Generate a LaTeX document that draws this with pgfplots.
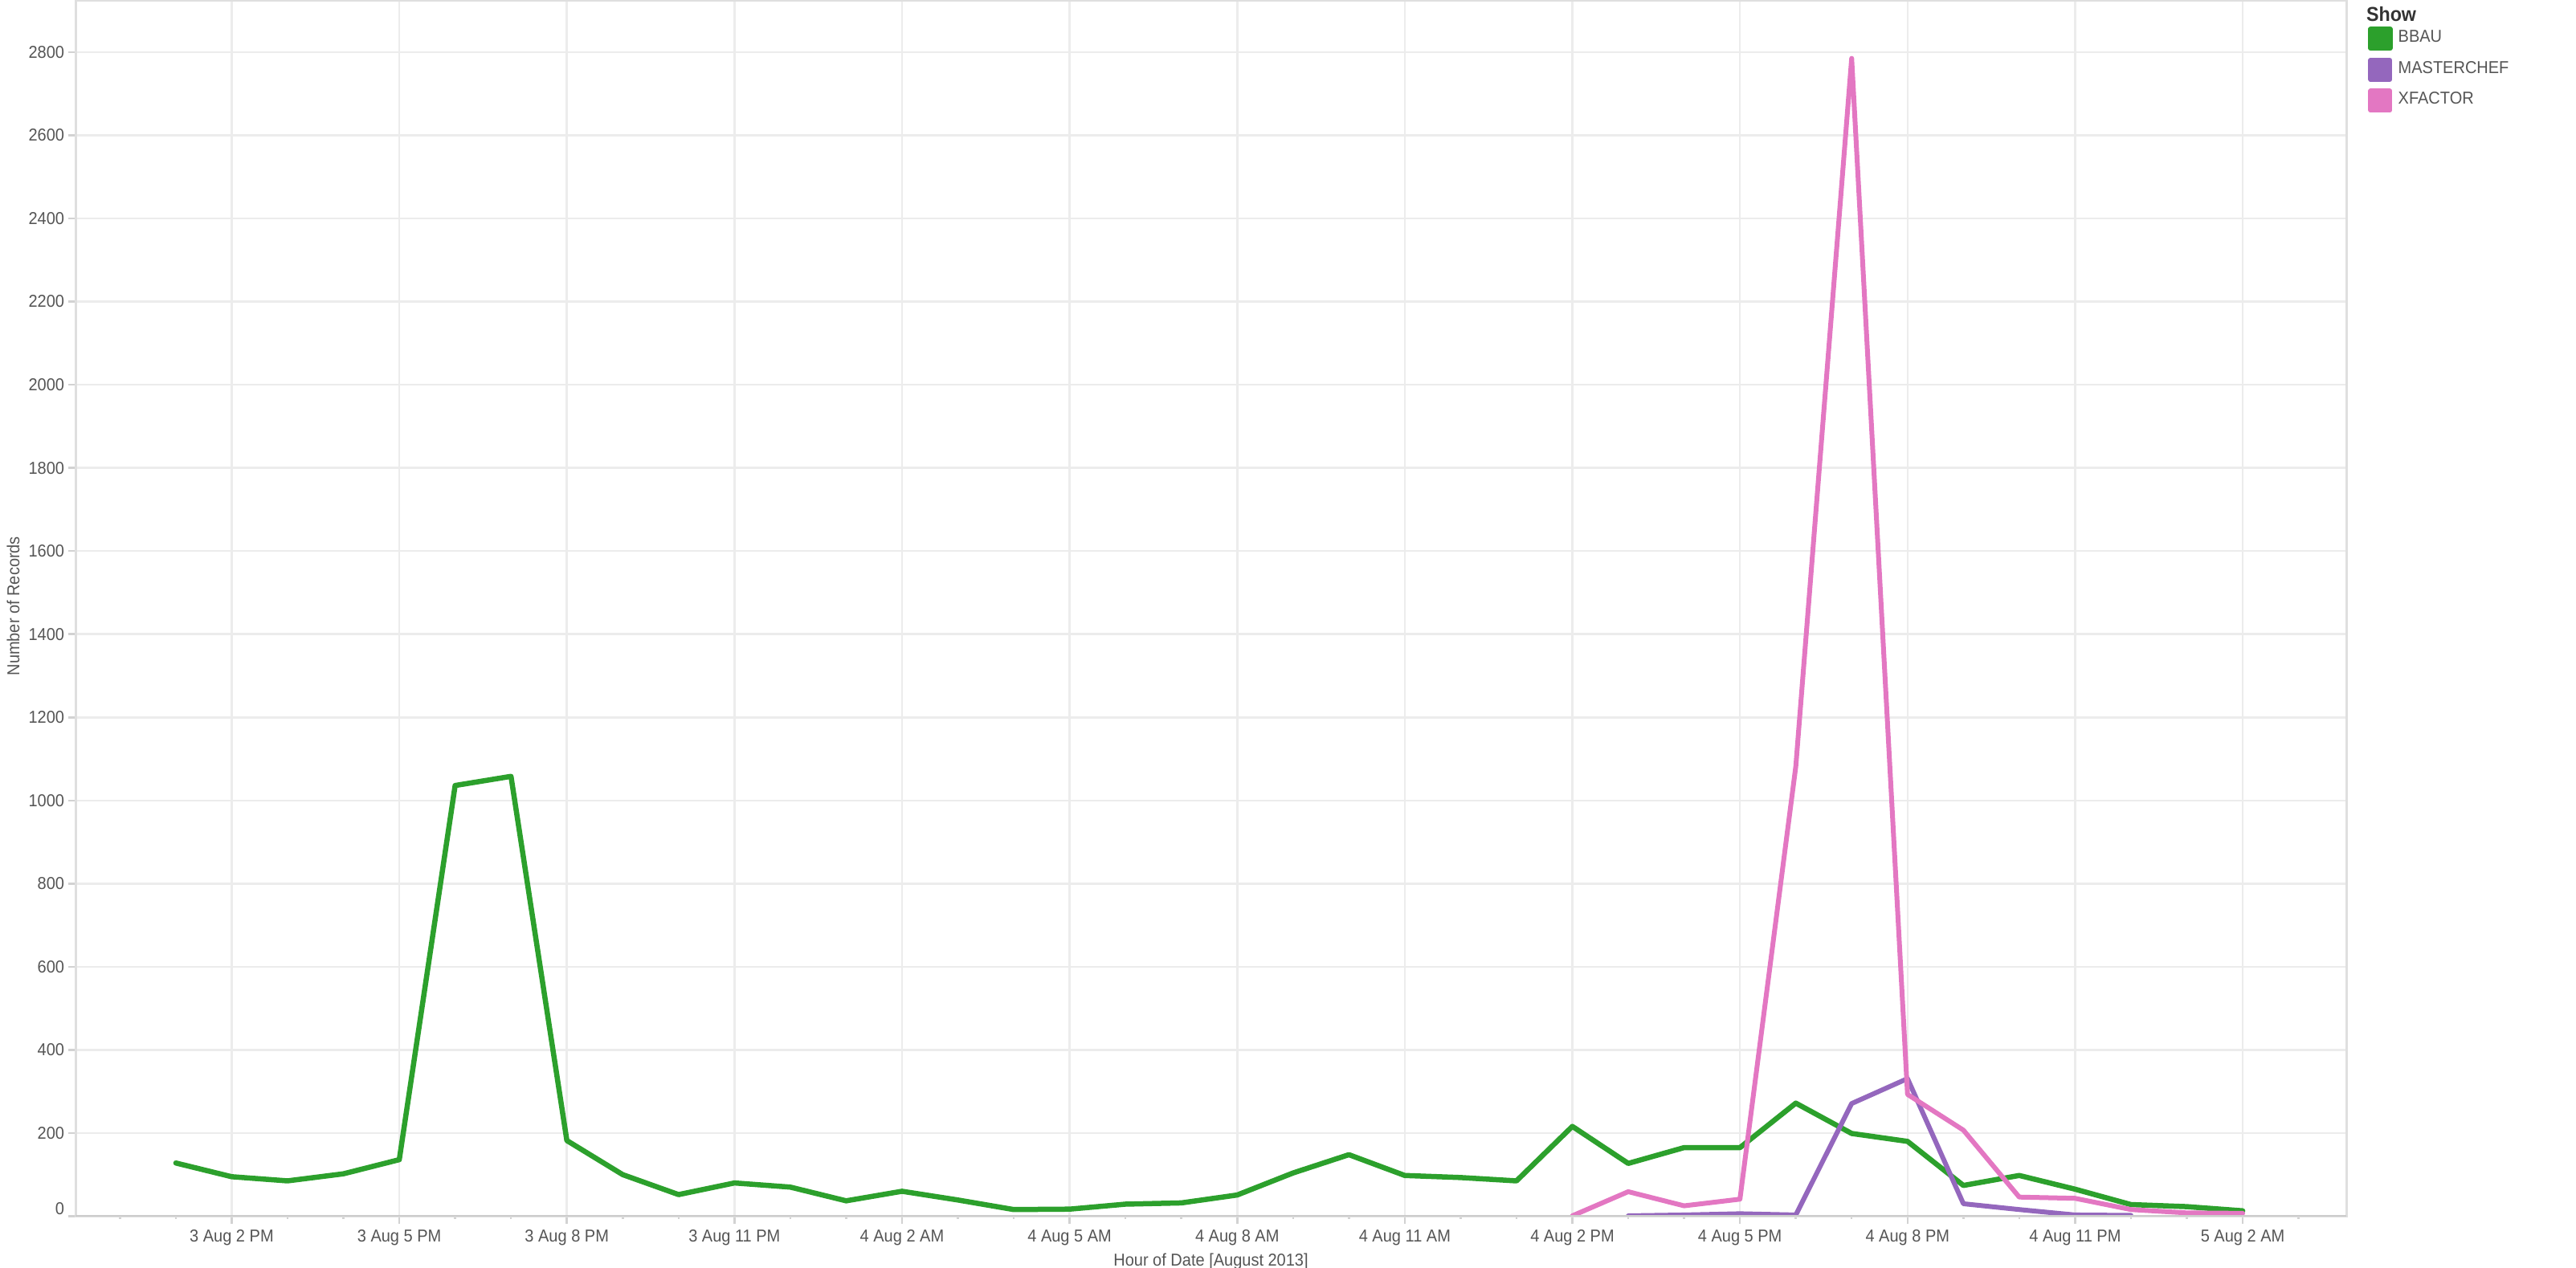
\documentclass[border=0pt]{standalone}
\usepackage{fontspec}
\setmainfont{Liberation Sans}
\newfontfamily\tabfont[FakeStretch=0.93]{Liberation Sans}
\usepackage{pgfplots}
\pgfplotsset{compat=1.18}
\definecolor{bbau}{HTML}{2CA02C}
\definecolor{mchef}{HTML}{9467BD}
\definecolor{xfac}{HTML}{E377C2}
\definecolor{txt}{HTML}{555555}
\definecolor{ttl}{HTML}{333333}
\begin{document}
\begin{tikzpicture}
\path[use as bounding box] (0,0) rectangle (641.4pt,315.6pt);
\begin{axis}[
  at={(18.8pt,12.7pt)}, anchor=south west,
  scale only axis, width=565.4pt, height=302.7pt,
  xmin=11.204, xmax=51.855, ymin=0, ymax=2923.5,
  xtick={14,17,...,50},
  xticklabels={3 Aug 2 PM,3 Aug 5 PM,3 Aug 8 PM,3 Aug 11 PM,4 Aug 2 AM,4 Aug 5 AM,4 Aug 8 AM,4 Aug 11 AM,4 Aug 2 PM,4 Aug 5 PM,4 Aug 8 PM,4 Aug 11 PM,5 Aug 2 AM},
  minor xtick={12,13,...,51},
  ytick={0,200,...,2800},
  yticklabels={\raisebox{4pt}{0},200,400,600,800,1000,1200,1400,1600,1800,2000,2200,2400,2600,2800},
  xtick pos=bottom, ytick pos=left,
  tick align=outside,
  major tick length=1.8pt, minor tick length=0.7pt,
  tick style={color=gray!35, line width=0.5pt},
  grid=major, major grid style={color=gray!15, line width=0.5pt},
  axis line style={color=gray!25, line width=0.6pt},
  ticklabel style={font=\tabfont\fontsize{4.3}{5}\selectfont, text=txt, inner sep=0pt},
  xticklabel style={anchor=base, yshift=-4.6pt},
  yticklabel style={anchor=east, xshift=-0.8pt},
  xlabel={Hour of Date [August 2013]},
  ylabel={Number of Records},
  label style={font=\tabfont\fontsize{4.3}{5}\selectfont, text=txt, inner sep=0pt},
  xlabel style={at={(axis description cs:0.5,-0.041)}, anchor=base},
  ylabel style={at={(axis description cs:-0.0274,0.502)}, anchor=center},
  legend style={at={(axis description cs:1.0096,0.9789)}, anchor=north west, draw=none, fill=none, inner sep=0pt, outer sep=0pt, row sep=1.7pt, column sep=1.4pt, font=\tabfont\fontsize{4.3}{5}\selectfont, text=txt, nodes={inner sep=0pt}},
  legend cell align=left,
  legend image code/.code={\fill[#1] (0pt,-2.3pt) rectangle (4.8pt,2.5pt);},
  every axis plot/.append style={line join=round, line cap=round},
]
\addplot[color=bbau, line width=1.3pt] coordinates {
(13,128) (14,95) (15,85) (16,102) (17,136) (18,1036) (19,1058) (20,182)
(21,100) (22,52) (23,80) (24,70) (25,37) (26,60) (27,39) (28,16) (29,17)
(30,29) (31,32) (32,51) (33,104) (34,148) (35,98) (36,93) (37,85) (38,216)
(39,127) (40,165) (41,165) (42,272) (43,199) (44,180) (45,74) (46,98)
(47,65) (48,28) (49,23) (50,13)
};
\addlegendentry{BBAU}
\addplot[color=mchef, line width=1.2pt] coordinates {
(39,1) (40,3) (41,6) (42,3) (43,271) (44,331) (45,30) (46,16) (47,3) (48,2)
};
\addlegendentry{MASTERCHEF}
\addplot[color=xfac, line width=1.2pt] coordinates {
(38,1) (39,59) (40,25) (41,41) (42,1082) (43,2785) (44,293) (45,207)
(46,46) (47,43) (48,16) (49,8) (50,7)
};
\addlegendentry{XFACTOR}
\draw[gray!40, line width=0.8pt] (axis description cs:0,0) ++(-1.8pt,0) -- (axis description cs:1,0);
\end{axis}
\node[anchor=base west, font=\bfseries\tabfont\fontsize{5}{6}\selectfont, text=ttl, inner sep=0pt] at (589pt,310.3pt) {Show};
\end{tikzpicture}
\end{document}
